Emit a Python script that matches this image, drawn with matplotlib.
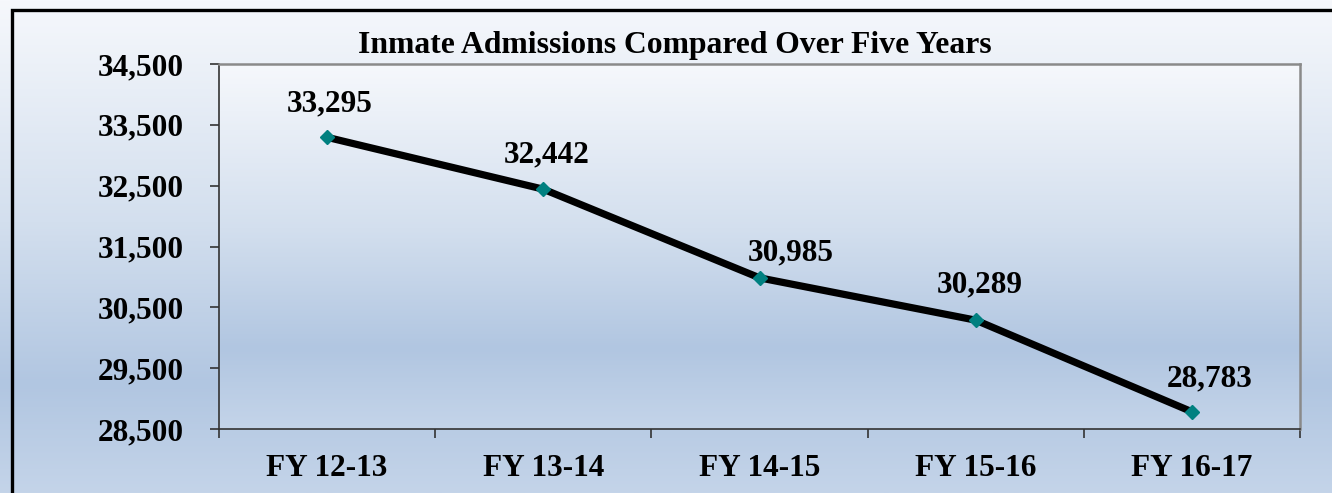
import matplotlib
matplotlib.use('Agg')
from matplotlib import pyplot as plt
from matplotlib.colors import LinearSegmentedColormap
from matplotlib.patches import Rectangle
import numpy as np

# chart data
years = ['FY 12-13', 'FY 13-14', 'FY 14-15', 'FY 15-16', 'FY 16-17']
admissions = [33295, 32442, 30985, 30289, 28783]
y_ticks = [28500, 29500, 30500, 31500, 32500, 33500, 34500]

# label offsets in pixels (dx, dy) relative to each marker
label_offsets = [(3, 26), (3, 27), (31, 17), (4, 28), (18, 25)]

plt.rcParams['font.family'] = ['Liberation Serif', 'DejaVu Serif']
plt.rcParams['font.weight'] = 'bold'

W, H, DPI = 1332, 493, 100
fig = plt.figure(figsize=(W / DPI, H / DPI), dpi=DPI)

grad = LinearSegmentedColormap.from_list(
    'bg', [(0.0, '#f6f8fc'), (0.45, '#d3dfee'), (0.78, '#b1c6e1'), (1.0, '#c4d4e9')])
g = np.linspace(0, 1, 256).reshape(-1, 1)

# figure background gradient
bg = fig.add_axes([0, 0, 1, 1], zorder=-10)
bg.imshow(g, cmap=grad, aspect='auto', extent=[0, 1, 0, 1], origin='upper')
bg.set_xlim(0, 1)
bg.set_ylim(0, 1)
bg.axis('off')

# outer black frame (cut off at right / bottom)
fig.patches.append(Rectangle((11.5 / W, -0.2), 1.5, 1.2 - 9.5 / H, transform=fig.transFigure,
                             fill=False, edgecolor='black', linewidth=2.4, zorder=5))

ax = fig.add_axes([219 / W, 1 - 429 / H, (1300 - 219) / W, (429 - 64) / H])
ax.set_facecolor('none')
ax.imshow(g, cmap=grad, aspect='auto', extent=[0, 1, 0, 1], origin='upper',
          transform=ax.transAxes, zorder=0)

x = np.arange(len(years))
ax.plot(x, admissions, color='black', linewidth=5.2, zorder=3, solid_capstyle='butt')
ax.plot(x, admissions, linestyle='none', marker='D', markersize=7.5,
        color='#008080', zorder=4)

for xi, yi, (dx, dy) in zip(x, admissions, label_offsets):
    ax.annotate(f'{yi:,}', (xi, yi), xytext=(dx * 72 / DPI, dy * 72 / DPI),
                textcoords='offset points', ha='center', va='baseline',
                fontsize=22.5, fontweight='bold', zorder=5)

ax.set_xlim(-0.5, len(years) - 0.5)
ax.set_ylim(y_ticks[0], y_ticks[-1])
ax.set_yticks(y_ticks)
ax.set_yticklabels([f'{v:,}' for v in y_ticks], fontsize=22.5, fontweight='bold')

ax.set_xticks(np.arange(-0.5, len(years), 1.0))
ax.set_xticklabels([])
ax.set_xticks(x, minor=True)
ax.set_xticklabels(years, minor=True, fontsize=22.5, fontweight='bold')
ax.tick_params(axis='x', which='minor', length=0, pad=18)
ax.tick_params(axis='x', which='major', direction='out', length=6.5, width=1.2, color='#333333')
ax.tick_params(axis='y', direction='out', length=6.5, width=1.2, color='#333333', pad=19)

for side in ['top', 'right']:
    ax.spines[side].set_color('#8a8a8a')
    ax.spines[side].set_linewidth(1.8)
for side in ['left', 'bottom']:
    ax.spines[side].set_color('#333333')
    ax.spines[side].set_linewidth(1.2)

fig.text(675 / W, 1 - 46 / H, 'Inmate Admissions Compared Over Five Years',
         ha='center', va='center', fontsize=22.8, fontweight='bold')

fig.savefig('out.png', dpi=DPI)
